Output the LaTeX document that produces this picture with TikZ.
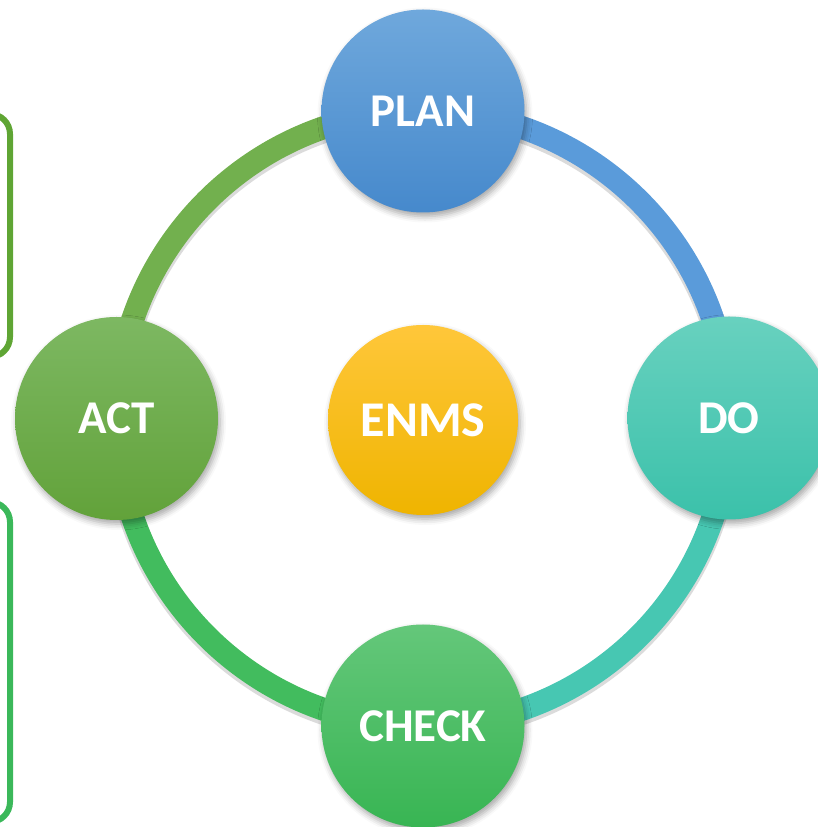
\documentclass[tikz,border=0pt]{standalone}
\usepackage{fontspec}
\setmainfont{Carlito}
\usetikzlibrary{shadows.blur}
\definecolor{planA}{HTML}{6FA8DC}
\definecolor{planB}{HTML}{4689CC}
\definecolor{doA}{HTML}{68D1BF}
\definecolor{doB}{HTML}{3BC1AA}
\definecolor{checkA}{HTML}{64C77A}
\definecolor{checkB}{HTML}{38B553}
\definecolor{actA}{HTML}{7DB862}
\definecolor{actB}{HTML}{62A23A}
\definecolor{enmsA}{HTML}{FFC73A}
\definecolor{enmsB}{HTML}{EFB400}
\definecolor{ringAP}{HTML}{72B04E}
\definecolor{ringPD}{HTML}{5A9BDA}
\definecolor{ringDC}{HTML}{47C7B2}
\definecolor{ringCA}{HTML}{42BC5E}
\definecolor{boxA}{HTML}{5FA534}
\definecolor{boxB}{HTML}{3BB85A}
\tikzset{
  phase/.style={circle, minimum size=203pt, inner sep=0pt, text=white,
    font=\fontsize{47}{52}\selectfont\bfseries,
    blur shadow={shadow xshift=2pt, shadow yshift=-4pt, shadow blur radius=6pt, shadow opacity=35}},
  ringarc/.style={line width=23pt, bend left=45},
  sidebox/.style={line width=6pt, rounded corners=20pt}
}
\begin{document}
\begin{tikzpicture}[x=1pt,y=1pt]
\useasboundingbox (0,0) rectangle (817,827);
% side boxes
\draw[sidebox, boxA] (-60,470) rectangle (10,713);
\draw[sidebox, boxB] (-60,5) rectangle (10,325);
% node positions
\coordinate (pplan) at (423,716);
\coordinate (pdo) at (729,409);
\coordinate (pcheck) at (423,101);
\coordinate (pact) at (116.5,408.5);
% ring arcs (shadow then colour)
\begin{scope}[opacity=0.14]
\draw[ringarc, black, line width=25pt] ([yshift=-3pt]pact) to ([yshift=-3pt]pplan);
\draw[ringarc, black, line width=25pt] ([yshift=-3pt]pplan) to ([yshift=-3pt]pdo);
\draw[ringarc, black, line width=25pt] ([yshift=-3pt]pdo) to ([yshift=-3pt]pcheck);
\draw[ringarc, black, line width=25pt] ([yshift=-3pt]pcheck) to ([yshift=-3pt]pact);
\end{scope}
\draw[ringarc, ringAP] (pact) to (pplan);
\draw[ringarc, ringPD] (pplan) to (pdo);
\draw[ringarc, ringDC] (pdo) to (pcheck);
\draw[ringarc, ringCA] (pcheck) to (pact);
% circles
\node[phase, top color=planA, bottom color=planB] (plan) at (pplan) {PLAN};
\node[phase, top color=doA, bottom color=doB] (do) at (pdo) {DO};
\node[phase, top color=checkA, bottom color=checkB] (check) at (pcheck) {CHECK};
\node[phase, top color=actA, bottom color=actB] (act) at (pact) {ACT};
\node[phase, minimum size=190pt, font=\fontsize{50}{55}\selectfont\bfseries,
  top color=enmsA, bottom color=enmsB] (enms) at (423,407) {ENMS};
\end{tikzpicture}
\end{document}
